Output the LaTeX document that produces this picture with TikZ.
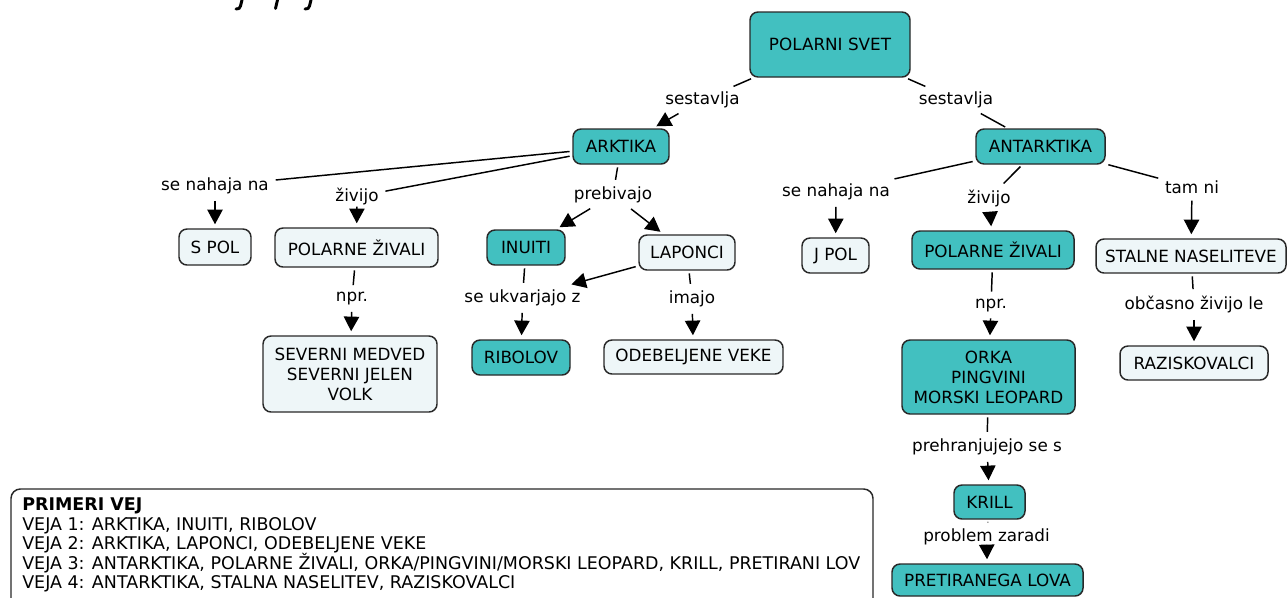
\documentclass[tikz,border=0pt]{standalone}
\usepackage{fontspec}
\setmainfont{DejaVu Sans}
\newfontfamily\legendfont{DejaVu Sans}
\usetikzlibrary{arrows.meta}

\definecolor{cfill}{RGB}{66,192,192}
\definecolor{pfill}{RGB}{238,246,248}
\definecolor{cborder}{RGB}{40,40,40}

\newcommand\pxu{0.75pt}

\tikzset{
  concept/.style={draw=cborder, line width=1.1pt, rounded corners=6pt,
    inner sep=0pt, align=center, text=black,
    font=\fontsize{12.6}{15}\selectfont},
  conceptA/.style={concept, fill=cfill},
  conceptB/.style={concept, fill=pfill},
  sz/.style n args={2}{minimum width=#1*\pxu, minimum height=#2*\pxu},
  link/.style={inner sep=3pt, anchor=base, text=black,
    font=\fontsize{12.6}{15}\selectfont},
  conn/.style={draw=black, line width=1.1pt, shorten <=2pt, shorten >=2pt},
  arr/.style={conn, shorten >=3pt, -{Triangle[length=11pt,width=11.5pt]}},
  legendline/.style={anchor=base west, inner sep=0pt,
    font=\legendfont\fontsize{13.1}{14}\selectfont},
}

\begin{document}
\begin{tikzpicture}[x=0.75pt, y=-0.75pt]
\useasboundingbox (0,0) rectangle (1287,597);
\clip (0,0) rectangle (1287,597);

% remains of the heading, cut by the upper edge
\begin{scope}[line width=2.2pt, line cap=round]
  \draw (242,0) -- (240.5,6) .. controls (239.5,8.5) .. (236,9);
  \draw (277.5,0) -- (275.5,8.5);
  \draw (311,0) -- (309.5,6) .. controls (308.5,8.5) .. (305,9);
\end{scope}

% concepts
\node[conceptA, sz={160}{65}] (ps)   at (830,44.5)   {POLARNI SVET};
\node[conceptA, sz={96}{35}]  (ark)  at (621,146.5)  {ARKTIKA};
\node[conceptA, sz={129}{35}] (ant)  at (1040.5,146.5) {ANTARKTIKA};
\node[conceptB, sz={72}{36}]  (spol) at (215,247)    {S POL};
\node[conceptB, sz={163}{39}] (pzl)  at (356.5,247.5) {POLARNE ŽIVALI};
\node[conceptA, sz={78}{35}]  (inu)  at (526,247.5)  {INUITI};
\node[conceptB, sz={96}{35}]  (lap)  at (687,252.5)  {LAPONCI};
\node[conceptB, sz={174}{76}] (sev)  at (350,374)    {SEVERNI MEDVED\\SEVERNI JELEN\\VOLK};
\node[conceptA, sz={98}{35}]  (rib)  at (521,357.5)  {RIBOLOV};
\node[conceptB, sz={179}{34}] (ode)  at (693.5,357)  {ODEBELJENE VEKE};
\node[conceptB, sz={67}{35}]  (jpol) at (835.5,255.5) {J POL};
\node[conceptA, sz={162}{38}] (pzr)  at (993,250)    {POLARNE ŽIVALI};
\node[conceptB, sz={190}{34}] (sta)  at (1191,256)   {STALNE NASELITEVE};
\node[conceptA, sz={173}{74}] (orka) at (988.5,377)  {ORKA\\PINGVINI\\MORSKI LEOPARD};
\node[conceptB, sz={148}{34}] (raz)  at (1194,363)   {RAZISKOVALCI};
\node[conceptA, sz={71}{34}]  (kri)  at (989.5,502)  {KRILL};
\node[conceptA, sz={191}{32}] (pre)  at (987.5,580)  {PRETIRANEGA LOVA};

% linking phrases
\node[link] (l1)  at (702.5,104.5) {sestavlja};
\node[link] (l2)  at (956,104.5)   {sestavlja};
\node[link] (l3)  at (215,190.5)   {se nahaja na};
\node[link] (l4)  at (357,201.5)   {živijo};
\node[link] (l5)  at (613,199.5)   {prebivajo};
\node[link] (l6)  at (352,301.5)   {npr.};
\node[link] (l7)  at (522.5,302.5) {se ukvarjajo z};
\node[link] (l8)  at (692,303.5)   {imajo};
\node[link] (l9)  at (836,196.5)   {se nahaja na};
\node[link] (l10) at (989,203)     {živijo};
\node[link] (l11) at (1192,193.5)  {tam ni};
\node[link] (l12) at (991,308)     {npr.};
\node[link] (l13) at (1194,309.5)  {občasno živijo le};
\node[link] (l14) at (987,451.5)   {prehranjujejo se s};
\node[link] (l15) at (986.5,541.5) {problem zaradi};

% connections
\draw[conn] (ps) -- (l1);   \draw[arr]  (l1) -- (ark);
\draw[conn] (ps) -- (l2);   \draw[conn] (l2) -- (ant);
\draw[conn] (ark) -- (l3);  \draw[arr]  (l3) -- (spol);
\draw[conn] (ark) -- (l4);  \draw[arr]  (l4) -- (pzl);
\draw[conn] (ark) -- (l5);  \draw[arr]  (l5) -- (inu);
                            \draw[arr]  (l5) -- (lap);
\draw[conn] (pzl) -- (l6);  \draw[arr]  (l6) -- (sev);
\draw[conn] (inu) -- (l7);  \draw[arr]  (l7) -- (rib);
\draw[arr]  (lap) -- (l7);
\draw[conn] (lap) -- (l8);  \draw[arr]  (l8) -- (ode);
\draw[conn] (ant) -- (l9);  \draw[arr]  (l9) -- (jpol);
\draw[conn] (ant) -- (l10); \draw[arr]  (l10) -- (pzr);
\draw[conn] (ant) -- (l11); \draw[arr]  (l11) -- (sta);
\draw[conn] (pzr) -- (l12); \draw[arr]  (l12) -- (orka);
\draw[conn] (sta) -- (l13); \draw[arr]  (l13) -- (raz);
\draw[conn] (orka) -- (l14); \draw[arr] (l14) -- (kri);
\draw[conn] (kri) -- (l15); \draw[arr]  (l15) -- (pre);

% legend
\draw[draw=cborder, line width=1.1pt, fill=white, rounded corners=7pt]
  (11,489) rectangle (873,630);
\node[legendline] (g0) at (22,510.5) {\bfseries PRIMERI VEJ};
\node[legendline] (g1) at (22,530)   {VEJA 1: ARKTIKA, INUITI, RIBOLOV};
\node[legendline] (g2) at (22,549.5) {VEJA 2: ARKTIKA, LAPONCI, ODEBELJENE VEKE};
\node[legendline] (g3) at (22,569)   {VEJA 3: ANTARKTIKA, POLARNE ŽIVALI, ORKA/PINGVINI/MORSKI LEOPARD, KRILL, PRETIRANI LOV};
\node[legendline] (g4) at (22,588.5) {VEJA 4: ANTARKTIKA, STALNA NASELITEV, RAZISKOVALCI};
\end{tikzpicture}
\end{document}
